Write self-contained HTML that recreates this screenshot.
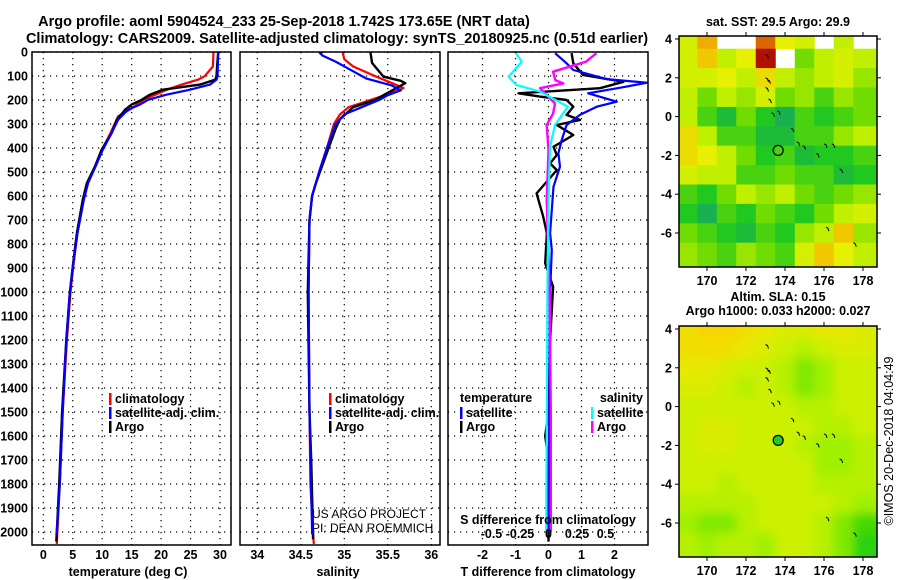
<!DOCTYPE html>
<html><head><meta charset="utf-8"><style>
html,body{margin:0;padding:0;background:#fff;}
svg{display:block;font-family:"Liberation Sans",Arial,sans-serif;}
.tk{font-size:12.5px;font-weight:bold;fill:#000;}
.ttl{font-size:14.5px;font-weight:bold;fill:#000;}
.lg{font-size:12.5px;font-weight:bold;fill:#000;}
</style></head><body>
<svg id="chart" width="900" height="580" viewBox="0 0 900 580" xmlns="http://www.w3.org/2000/svg">
<defs>
<clipPath id="c1"><rect x="32" y="52" width="199" height="493"/></clipPath>
<clipPath id="c2"><rect x="240" y="52" width="200" height="493"/></clipPath>
<clipPath id="c3"><rect x="448" y="52" width="200" height="493"/></clipPath>
<clipPath id="cm1"><rect x="679" y="36" width="198" height="231"/></clipPath>
<clipPath id="cm2"><rect x="679" y="326" width="198" height="231"/></clipPath>
<filter id="blur" x="0" y="0" width="1" height="1"><feGaussianBlur stdDeviation="5" edgeMode="duplicate"/></filter>
</defs>
<text class="ttl" x="284" y="26" text-anchor="middle">Argo profile: aoml 5904524_233 25-Sep-2018 1.742S 173.65E (NRT data)</text>
<text class="ttl" x="337" y="43" text-anchor="middle">Climatology: CARS2009. Satellite-adjusted climatology: synTS_20180925.nc (0.51d earlier)</text>
<text class="tk" x="778" y="26" text-anchor="middle">sat. SST: 29.5 Argo: 29.9</text>
<text class="tk" x="778" y="301" text-anchor="middle">Altim. SLA: 0.15</text>
<text class="tk" x="778" y="315" text-anchor="middle">Argo h1000: 0.033 h2000: 0.027</text>
<text x="0" y="0" font-size="12.5" transform="translate(893,441) rotate(-90)" text-anchor="middle">©IMOS 20-Dec-2018 04:04:49</text>
<g id="g"></g>
</svg>
<script>
// ---------- data ----------
const depthTicks=[0,100,200,300,400,500,600,700,800,900,1000,1100,1200,1300,1400,1500,1600,1700,1800,1900,2000];
const tempTicks=[0,5,10,15,20,25,30];
const salTicks=[34,34.5,35,35.5,36];
const salTickLabels=["34","34.5","35","35.5","36"];
const tdiffTicks=[-2,-1,0,1,2];
const sdiffTicks=[-0.5,-0.25,0,0.25,0.5];
const sdiffTickLabels=["-0.5","-0.25","0","0.25","0.5"];

const argoTDepth=[0,60,101,115,136,157,178,199,219,240,282,338,407,476,546,615,754,893,1004,1200,1500,1800,2000,2040];
const argoTemp=[29.7,29.5,29.4,29.2,26.6,20.3,18.1,16.7,15.0,13.9,12.5,11.6,9.9,8.8,7.4,6.7,5.7,5.0,4.5,3.9,3.2,2.7,2.3,2.2];
const climTDepth=[0,60,101,115,136,157,199,240,268,338,407,476,546,615,754,893,1004,1200,1500,1800,2000,2050];
const climTemp=[28.9,28.8,27.4,26.3,23.5,21.0,17.0,14.7,12.7,11.4,10.0,8.8,7.5,6.8,5.8,5.1,4.6,4.0,3.3,2.8,2.4,2.3];
const satTDepth=[0,101,115,136,157,178,199,219,240,282,338,407,476,546,615,754,893,1004,1200,1500,1800,2000,2010];
const satTemp=[29.7,29.6,29.4,28.3,24.9,20.9,17.8,16.4,14.4,12.7,11.6,10.1,8.9,7.6,6.9,5.8,5.0,4.5,3.9,3.3,2.8,2.3,2.2];

const argoSDepth=[0,46,103,120,130,150,180,200,230,280,320,400,500,550,600,700,1000,1500,1700,2000,2030];
const argoSal=[35.3,35.32,35.45,35.65,35.7,35.6,35.45,35.35,35.1,34.95,34.9,34.82,34.72,34.67,34.63,34.6,34.58,34.6,34.62,34.64,34.64];
const climSDepth=[0,30,60,100,130,150,170,200,230,260,300,400,500,600,700,1000,1500,1800,2000,2050];
const climSal=[34.98,35.0,35.1,35.35,35.55,35.68,35.55,35.3,35.05,34.95,34.88,34.8,34.71,34.63,34.6,34.59,34.6,34.61,34.64,34.65];
const satSDepth=[0,5,15,40,80,110,140,160,180,200,230,260,300,400,500,600,700,1000,1500,2000,2010];
const satSal=[34.75,34.72,34.75,34.9,35.1,35.25,35.55,35.65,35.5,35.4,35.2,35.0,34.9,34.8,34.71,34.63,34.6,34.59,34.6,34.63,34.63];

const tArgoDiffDepth=[5,47,96,124,151,172,186,200,228,262,283,304,346,395,429,464,492,589,686,755,880,978,1200,1500,1600,1700,2000,2040];
const tArgoDiff=[0.70,0.75,1.05,2.27,1.56,-0.91,-0.26,0.55,0.75,0.55,0.95,0.25,0.75,0.15,0.25,0.05,0.25,-0.36,-0.16,-0.05,-0.1,0.14,0.05,0.0,-0.1,0.0,0.0,0.0];
const tSatDiffDepth=[5,47,75,113,128,144,172,207,228,262,304,367,422,478,561,755,825,1000,1500,2000];
const tSatDiff=[0.2,0.55,0.75,1.76,2.98,2.37,1.2,2.07,1.46,0.95,0.55,0.4,0.3,0.35,0.15,0.05,0.1,0.05,0.02,0.0];
const sSatDiffDepth=[5,40,103,138,165,228,304,395,617,1000,1500,2000];
const sSatDiff=[-0.285,-0.235,-0.35,-0.28,-0.075,0.17,0.057,0.013,0.0,-0.01,-0.015,-0.02];
const sArgoDiffDepth=[5,40,82,117,131,151,179,214,256,304,408,617,1000,1500,2000];
const sArgoDiff=[0.42,0.33,0.04,0.06,0.13,-0.075,-0.016,0.057,0.04,-0.016,0.0,-0.016,0.01,0.02,0.02];

const mapLons=[169,170,171,172,173,174,175,176,177,178];
const mapLats=[4,3,2,1,0,-1,-2,-3,-4,-5,-6,-7];
const lonTicks=[170,172,174,176,178];
const latTicks=[4,2,0,-2,-4,-6];
const sstGrid=[
[29.7,30.1,null,null,30.3,29.8,29.7,null,29.6,null],
[29.7,30.0,29.6,29.8,30.5,null,29.4,29.6,29.7,29.6],
[29.7,29.7,29.8,29.6,29.9,29.6,29.5,29.6,29.7,29.5],
[29.6,29.4,29.6,29.5,29.7,29.4,29.5,29.3,29.5,29.4],
[29.6,29.3,29.1,29.4,29.2,29.0,29.3,29.2,29.3,29.4],
[29.9,29.6,29.3,29.3,29.1,29.1,29.3,29.3,29.5,29.6],
[29.9,29.8,29.6,29.4,29.2,29.3,29.1,29.2,29.2,29.3],
[29.7,29.6,29.6,29.3,29.3,29.4,29.3,29.3,29.1,29.2],
[29.3,29.2,29.4,29.6,29.5,29.6,29.4,29.3,29.4,29.5],
[29.2,29.0,29.3,29.2,29.4,29.3,29.2,29.4,29.6,29.7],
[29.4,29.3,29.2,29.1,29.3,29.2,29.5,29.6,30.0,29.5],
[29.5,29.4,29.3,29.5,29.4,29.3,29.7,30.0,29.8,29.6]];
const slaGrid=[
[.18,.19,.19,.18,.17,.16,.16,.17,.17,.16],
[.18,.18,.18,.17,.16,.15,.14,.15,.16,.16],
[.17,.17,.16,.15,.15,.14,.12,.13,.15,.15],
[.16,.16,.15,.14,.15,.14,.12,.13,.15,.15],
[.15,.15,.15,.15,.15,.15,.14,.14,.15,.15],
[.15,.16,.16,.15,.15,.15,.15,.14,.14,.15],
[.15,.16,.16,.15,.15,.15,.14,.13,.13,.14],
[.15,.15,.15,.15,.15,.15,.15,.13,.13,.14],
[.15,.15,.14,.15,.15,.15,.15,.14,.14,.14],
[.14,.14,.14,.14,.15,.15,.15,.15,.14,.13],
[.13,.12,.12,.14,.15,.15,.15,.14,.12,.10],
[.14,.13,.14,.14,.13,.15,.15,.14,.12,.09]];
const floatLon=[173.65];
const floatLat=[-1.742];
const islandLon=[173.0,173.1,173.0,173.15,173.3,173.6,174.3,174.6,174.9,175.6,176.0,176.4,173.0,177.5,176.1,176.8];
const islandLat=[3.2,1.9,1.5,0.9,0.2,0.3,-0.6,-1.3,-1.5,-1.9,-1.4,-1.4,2.0,-6.5,-5.7,-2.7];

// ---------- helpers ----------
const NS="http://www.w3.org/2000/svg";
const root=document.getElementById('g');
function mk(tag,attrs,parent){const e=document.createElementNS(NS,tag);for(const k in attrs)e.setAttribute(k,attrs[k]);(parent||root).appendChild(e);return e;}
const yD=d=>52+0.24*d;
const xT=t=>43.3+5.89*t;
const xS=s=>257.3+87*(s-34);
const xTD=v=>548.5+33*v;
const xSD=v=>548.5+114*v;

const panels=[{x:32,w:199,clip:'c1',name:'temperature-panel'},{x:240,w:200,clip:'c2',name:'salinity-panel'},{x:448,w:200,clip:'c3',name:'difference-panel'}];

function grid(p,xs,pg){
  for(const v of xs){const l=mk('line',{x1:v,x2:v,y1:52,y2:545,stroke:'#000','stroke-width':1.2,'stroke-dasharray':'1.2 4.8'},pg);
    
    }
  for(const d of depthTicks){const l=mk('line',{x1:p.x,x2:p.x+p.w,y1:yD(d),y2:yD(d),stroke:'#000','stroke-width':1.2,'stroke-dasharray':'1.2 4.8'},pg);
    
    }
}
function frame(x,y,w,h,pg){const r=mk('rect',{x:x,y:y,width:w,height:h,fill:'none',stroke:'#000','stroke-width':1.5},pg);
  
  }
function line(xs,ds,fx,color,pg,name,sw){
  const pts=xs.map((v,i)=>fx(v).toFixed(1)+','+yD(ds[i]).toFixed(1)).join(' ');
  const pl=mk('polyline',{points:pts,fill:'none',stroke:color,'stroke-width':sw||2.2,'stroke-linejoin':'round'},pg);
  
  
}
function txt(s,x,y,cls,anchor,pg,name){const t=mk('text',{x:x,y:y,class:cls,'text-anchor':anchor||'middle'},pg);t.textContent=s;
  
  return t;}
function legItem(x,y,color,label,pg,name){
  const r=mk('rect',{x:x,y:y-10,width:2.5,height:12,fill:color},pg);
  
  
  txt(label,x+6,y,'lg','start',pg,name+'-label');
}

// depth axis labels
const yax=mk('g',{});


for(const d of depthTicks) txt(String(d),28,yD(d)+4.5,'tk','end',yax,'depth-tick-label');

// Panel 1: temperature
const p1=mk('g',{});


grid(panels[0],tempTicks.map(xT),p1);
const p1c=mk('g',{'clip-path':'url(#c1)'},p1);
line(climTemp,climTDepth,xT,'#f00',p1c,'climatology-temperature-line');
line(argoTemp,argoTDepth,xT,'#000',p1c,'argo-temperature-line',2.4);
line(satTemp,satTDepth,xT,'#00f',p1c,'satellite-temperature-line');
frame(32,52,199,493,p1);
for(const t of tempTicks) txt(String(t),xT(t),559,'tk','middle',p1,'temperature-tick-label');
txt('temperature (deg C)',128,576,'tk','middle',p1,'x-axis-title-temperature');
legItem(109,403,'#f00','climatology',p1,'legend-climatology');
legItem(109,417,'#00f','satellite-adj. clim.',p1,'legend-satellite');
legItem(109,431,'#000','Argo',p1,'legend-argo');

// Panel 2: salinity
const p2=mk('g',{});


grid(panels[1],salTicks.map(xS),p2);
const p2c=mk('g',{'clip-path':'url(#c2)'},p2);
line(climSal,climSDepth,xS,'#f00',p2c,'climatology-salinity-line');
line(argoSal,argoSDepth,xS,'#000',p2c,'argo-salinity-line',2.4);
line(satSal,satSDepth,xS,'#00f',p2c,'satellite-salinity-line');
frame(240,52,200,493,p2);
salTicks.forEach((s,i)=>txt(salTickLabels[i],xS(s),559,'tk','middle',p2,'salinity-tick-label'));
txt('salinity',338,576,'tk','middle',p2,'x-axis-title-salinity');
legItem(329,403,'#f00','climatology',p2,'legend-climatology');
legItem(329,417,'#00f','satellite-adj. clim.',p2,'legend-satellite');
legItem(329,431,'#000','Argo',p2,'legend-argo');
txt('US ARGO PROJECT',312,518,'','start',p2,'project-credit').setAttribute('font-size','12');
txt('PI: DEAN ROEMMICH',312,532,'','start',p2,'pi-credit').setAttribute('font-size','12');

// Panel 3: differences
const p3=mk('g',{});


grid(panels[2],tdiffTicks.map(xTD),p3);
const p3c=mk('g',{'clip-path':'url(#c3)'},p3);
line(tArgoDiff,tArgoDiffDepth,xTD,'#000',p3c,'argo-temperature-difference-line',2.4);
line(tSatDiff,tSatDiffDepth,xTD,'#00f',p3c,'satellite-temperature-difference-line');
line(sArgoDiff,sArgoDiffDepth,xSD,'#f0f',p3c,'argo-salinity-difference-line',2.4);
line(sSatDiff,sSatDiffDepth,xSD,'#0ff',p3c,'satellite-salinity-difference-line');
frame(448,52,200,493,p3);
for(const t of tdiffTicks) txt(String(t),xTD(t),559,'tk','middle',p3,'temperature-difference-tick-label');
sdiffTicks.forEach((s,i)=>txt(sdiffTickLabels[i],xSD(s),538,'tk','middle',p3,'salinity-difference-tick-label'));
txt('S difference from climatology',548,524,'tk','middle',p3,'salinity-difference-axis-title');
txt('T difference from climatology',548,576,'tk','middle',p3,'x-axis-title-temperature-difference');
txt('temperature',460,402,'lg','start',p3,'legend-temperature-heading');
legItem(460,417,'#00f','satellite',p3,'legend-temperature-satellite');
legItem(460,431,'#000','Argo',p3,'legend-temperature-argo');
txt('salinity',643,402,'lg','end',p3,'legend-salinity-heading');
legItem(591,417,'#0ff','satellite',p3,'legend-salinity-satellite');
legItem(591,431,'#f0f','Argo',p3,'legend-salinity-argo');

// ---------- maps ----------
function lerpColor(v,stops){
  if(v<=stops[0][0])return stops[0][1];
  for(let i=1;i<stops.length;i++){if(v<=stops[i][0]){const a=stops[i-1],b=stops[i];const f=(v-a[0])/(b[0]-a[0]);
    const ca=a[1].match(/\w\w/g).map(h=>parseInt(h,16)),cb=b[1].match(/\w\w/g).map(h=>parseInt(h,16));
    return 'rgb('+ca.map((c,k)=>Math.round(c+(cb[k]-c)*f)).join(',')+')';}}
  return stops[stops.length-1][1];
}
const sstStops=[[29.0,'#18b050'],[29.2,'#20c820'],[29.4,'#70dc00'],[29.6,'#c0f000'],[29.8,'#e6f000'],[30.0,'#f0c800'],[30.2,'#f09000'],[30.5,'#b01000']];
const slaStops=[[0.08,'#10cc10'],[0.11,'#60e000'],[0.13,'#a0f000'],[0.15,'#ccf000'],[0.17,'#e8e800'],[0.19,'#f8d400']];

function drawMap(top,gridVals,stops,clip,name,blurred,filledCircle){
  const bottom=top+231;
  const xL=lon=>707+19.5*(lon-170);
  const yL=lat=>top+3+19.4*(4-lat);
  const mg=mk('g',{});
  
  
  const cg=mk('g',{'clip-path':'url(#'+clip+')'},mg);
  const hg=mk('g',blurred?{filter:'url(#blur)'}:{},cg);
  mapLats.forEach((lat,r)=>mapLons.forEach((lon,c)=>{
    const v=gridVals[r][c]; if(v===null)return;
    let x0=xL(lon-0.5),x1=xL(lon+0.5),y0=yL(lat+0.5),y1=yL(lat-0.5);
    if(c===0)x0-=20; if(c===mapLons.length-1)x1+=20;
    if(r===0)y0-=20; if(r===mapLats.length-1)y1+=20;
    const cell=mk('rect',{x:x0,y:y0,width:x1-x0+0.5,height:y1-y0+0.5,fill:lerpColor(v,stops)},hg);
    
    
  }));
  islandLon.forEach((lon,i)=>{
    const d=mk('path',{d:'M'+xL(lon).toFixed(1)+' '+yL(islandLat[i]).toFixed(1)+' l2 1 l1 3',fill:'none',stroke:'#000','stroke-width':1},cg);
    
    
  });
  floatLon.forEach((lon,i)=>{
    const c=mk('circle',{cx:xL(lon),cy:yL(floatLat[i]),r:5,fill:filledCircle?'#22cc22':'none',stroke:'#000','stroke-width':1.2},cg);
    
    
  });
  frame(679,top,198,231,mg);
  for(const lon of lonTicks){
    const t1=mk('line',{x1:xL(lon),x2:xL(lon),y1:top,y2:top-4,stroke:'#000'},mg);
    
    
    const t2=mk('line',{x1:xL(lon),x2:xL(lon),y1:bottom,y2:bottom+4,stroke:'#000'},mg);
    
    
    txt(String(lon),xL(lon),bottom+18,'tk','middle',mg,'longitude-tick-label');
  }
  for(const lat of latTicks){
    const t1=mk('line',{x1:679,x2:675,y1:yL(lat),y2:yL(lat),stroke:'#000'},mg);
    
    
    const t2=mk('line',{x1:877,x2:881,y1:yL(lat),y2:yL(lat),stroke:'#000'},mg);
    
    
    txt(String(lat),672,yL(lat)+4.5,'tk','end',mg,'latitude-tick-label');
  }
}
drawMap(36,sstGrid,sstStops,'cm1','sst-map',false,false);
drawMap(326,slaGrid,slaStops,'cm2','sla-map',true,true);
</script>
</body></html>
